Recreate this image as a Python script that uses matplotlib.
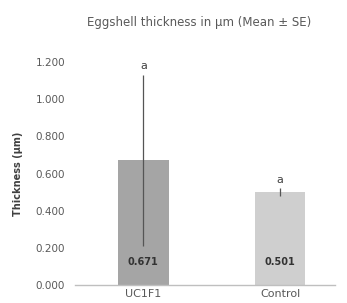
import matplotlib
matplotlib.use("Agg")
import matplotlib.pyplot as plt

categories = ["UC1F1", "Control"]
means = [0.671, 0.501]
errors = [0.46, 0.02]
letters = ["a", "a"]
bar_colors = ["#a5a5a5", "#cfcfcf"]

fig = plt.figure(figsize=(3.47, 3.03), dpi=100)
ax = fig.add_axes([0.216, 0.0594, 0.749, 0.7356])

x = range(len(categories))
ax.bar(x, means, width=0.37, color=bar_colors, zorder=2)
ax.errorbar(x, means, yerr=errors, fmt="none", ecolor="#555555",
            elinewidth=0.9, capsize=0, zorder=3)

for i, (m, e, lt) in enumerate(zip(means, errors, letters)):
    ax.text(i, 0.125, f"{m:.3f}", ha="center", va="center",
            fontsize=7, fontweight="bold", color="#333333", zorder=4)
    ax.text(i, m + e + 0.02, lt, ha="center", va="bottom",
            fontsize=8, color="#404040")

ax.set_xlim(-0.5, 1.4)
ax.set_ylim(0, 1.2)
ax.set_yticks([0, 0.2, 0.4, 0.6, 0.8, 1.0, 1.2])
ax.set_yticklabels([f"{v:.3f}" for v in ax.get_yticks()])
ax.set_xticks(list(x))
ax.set_xticklabels(categories)
ax.tick_params(axis="y", length=0, labelsize=7.5, colors="#595959", pad=7)
ax.tick_params(axis="x", length=0, labelsize=8, colors="#595959", pad=3)

for side in ["top", "right", "left"]:
    ax.spines[side].set_visible(False)
ax.spines["bottom"].set_color("#bfbfbf")
ax.spines["bottom"].set_linewidth(1.0)

ax.set_ylabel("Thickness (µm)", fontsize=7, fontweight="bold", color="#404040", labelpad=9)
fig.text(0.575, 0.925, "Eggshell thickness in µm (Mean ± SE)", ha="center",
         va="center", fontsize=8.5, color="#595959")

fig.savefig("out.png", dpi=100)
